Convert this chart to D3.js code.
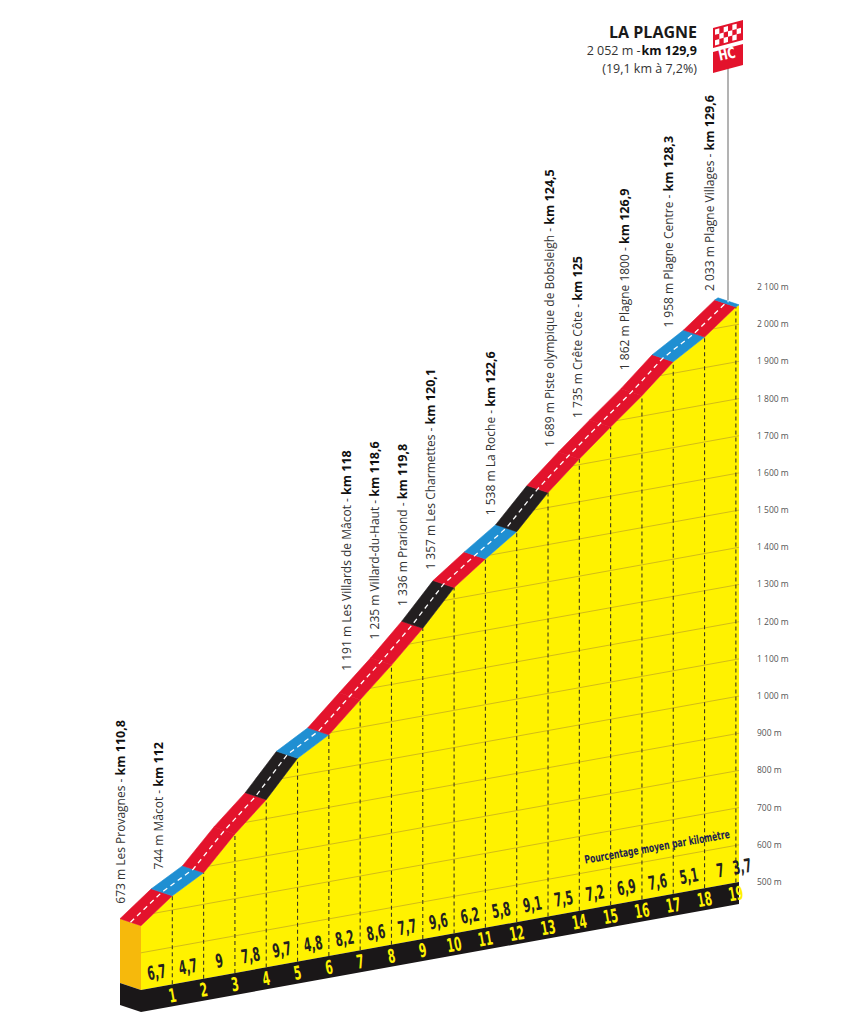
<!DOCTYPE html>
<html>
<head>
<meta charset="utf-8">
<script src="https://cdn.jsdelivr.net/npm/d3@7"></script>
<style>
    body { margin: 0; background: #fff; }
    #profile { width: 841px; height: 1024px; }
    .cond { font-family: 'Liberation Sans Narrow', 'DejaVu Sans Condensed', 'Roboto', sans-serif; font-stretch: condensed; font-weight: bold; }
    .lbl { font-family: 'Open Sans', sans-serif; }
</style>
</head>
<body>
<div id="profile"></div>
<script>

// km from the foot of the climb and the height read at each point
let kmMarks = [0, 1, 2, 3, 4, 5, 6, 7, 8, 9, 10, 11, 12, 13, 14, 15, 16, 17, 18, 19, 19.1];
let elevations = [673, 738, 785, 874, 951, 1047, 1095, 1174, 1252, 1336, 1430, 1492, 1550, 1640, 1715, 1786, 1855, 1931, 1982, 2048, 2052];

// average gradient of each km
let kmGradients = [6.7, 4.7, 9, 7.8, 9.7, 4.8, 8.2, 8.6, 7.7, 9.6, 6.2, 5.8, 9.1, 7.5, 7.2, 6.9, 7.6, 5.1, 7, 3.7];

// km numbers printed on the black band
let kmNumbers = [1, 2, 3, 4, 5, 6, 7, 8, 9, 10, 11, 12, 13, 14, 15, 16, 17, 18, 19];

// altitude ticks on the right
let altTicks = [500, 600, 700, 800, 900, 1000, 1100, 1200, 1300, 1400, 1500, 1600, 1700, 1800, 1900, 2000, 2100];
let altTickLabels = ["500 m", "600 m", "700 m", "800 m", "900 m", "1 000 m", "1 100 m", "1 200 m", "1 300 m", "1 400 m",
    "1 500 m", "1 600 m", "1 700 m", "1 800 m", "1 900 m", "2 000 m", "2 100 m"];

// places along the climb
let placeKm = [0, 1.2, 7.2, 7.8, 9, 9.3, 11.8, 13.7, 14.2, 16.1, 17.5, 18.8];
let placeNames = ["673 m Les Provagnes - ", "744 m Mâcot - ", "1 191 m  Les Villards de Mâcot - ", "1 235 m Villard-du-Haut - ",
    "1 336 m Prariond - ", "1 357 m Les Charmettes - ", "1 538 m La Roche - ", "1 689 m Piste olympique de Bobsleigh - ",
    "1 735 m Crête Côte - ", "1 862 m Plagne 1800 - ", "1 958 m Plagne Centre - ", "2 033 m Plagne Villages - "];
let placeKmLabels = ["km 110,8", "km 112", "km 118", "km 118,6", "km 119,8", "km 120,1", "km 122,6", "km 124,5",
    "km 125", "km 126,9", "km 128,3", "km 129,6"];

let summitName = "LA PLAGNE";
let summitAlt = "2 052 m - ";
let summitKm = "km 129,9";
let summitClimb = "(19,1 km à 7,2%)";


class ClimbProfile {

    constructor(parentElement) {
        this.parentElement = parentElement;
        this.initVis();
    }

    initVis() {
        let vis = this;

        vis.width = 841;
        vis.height = 1024;
        vis.depth = {dx: -21, dy: -7};   // offset of the back edge of the road
        vis.bandHeight = 22;
        vis.narrow = 0.62;               // squeeze for the condensed figures

        vis.svg = d3.select('#' + vis.parentElement)
            .append('svg')
            .attr('width', vis.width)
            .attr('height', vis.height);

        // horizontal: km along the climb
        vis.x = d3.scaleLinear()
            .domain([0, 19.1])
            .range([141, 739]);

        // the floor of the block rises to the right
        vis.base = d3.scaleLinear()
            .domain([141, 739])
            .range([990, 882]);

        // altitude above the 500 m floor
        vis.alt = d3.scaleLinear()
            .domain([500, 2100])
            .range([0, -595]);

        // piecewise height along the road
        vis.elev = d3.scaleLinear()
            .domain(kmMarks)
            .range(elevations);

        vis.colour = d3.scaleThreshold()
            .domain([6, 9.05])
            .range(['#1f8fd2', '#e3132c', '#231f20']);

        vis.updateVis();
    }

    px(km) { return this.x(km); }
    py(km, e) { return this.base(this.x(km)) + this.alt(e); }

    updateVis() {
        let vis = this;
        let pts = kmMarks.map((k, i) => ({km: k, e: elevations[i]}));
        let xEnd = vis.x(19.1);

        // yellow front face
        let facePts = pts.map(d => [vis.px(d.km), vis.py(d.km, d.e)]);
        facePts.push([xEnd, vis.base(xEnd)]);
        facePts.push([vis.x(0), vis.base(vis.x(0))]);

        vis.svg.append('clipPath').attr('id', 'faceClip')
            .append('polygon').attr('points', facePts.join(' '));

        vis.svg.append('polygon')
            .attr('points', facePts.join(' '))
            .attr('fill', '#fff200');

        // left side of the block
        let x0 = vis.x(0), y0 = vis.py(0, elevations[0]), b0 = vis.base(x0);
        let d = vis.depth;
        vis.svg.append('polygon')
            .attr('points', [[x0, y0], [x0 + d.dx, y0 + d.dy], [x0 + d.dx, b0 + d.dy], [x0, b0]].join(' '))
            .attr('fill', '#f6b90c');

        // black band
        vis.svg.append('polygon')
            .attr('points', [[x0 + d.dx, b0 + d.dy], [x0, b0], [xEnd, vis.base(xEnd)],
                [xEnd, vis.base(xEnd) + vis.bandHeight], [x0, b0 + vis.bandHeight],
                [x0 + d.dx, b0 + d.dy + vis.bandHeight]].join(' '))
            .attr('fill', '#1a1718');

        // altitude grid lines on the face
        let grid = vis.svg.append('g').attr('clip-path', 'url(#faceClip)');
        grid.selectAll('line.grid')
            .data(altTicks.filter(a => a > 500))
            .enter().append('line')
            .attr('class', 'grid')
            .attr('x1', x0)
            .attr('x2', xEnd)
            .attr('y1', a => vis.base(x0) + vis.alt(a))
            .attr('y2', a => vis.base(xEnd) + vis.alt(a))
            .attr('stroke', '#cdb51a')
            .attr('stroke-width', 0.9);

        // dashed km lines
        vis.svg.selectAll('line.kmline')
            .data(kmNumbers)
            .enter().append('line')
            .attr('class', 'kmline')
            .attr('x1', k => vis.x(k))
            .attr('x2', k => vis.x(k))
            .attr('y1', k => vis.base(vis.x(k)))
            .attr('y2', k => vis.py(k, vis.elev(k)))
            .attr('stroke', '#3e3a1c')
            .attr('stroke-width', 1.1)
            .attr('stroke-dasharray', '4,3');

        // road on top, one piece per km, coloured by gradient
        let segs = kmGradients.map((g, i) => ({g: g, a: pts[i], b: pts[i + 1]}));
        vis.svg.selectAll('polygon.road')
            .data(segs)
            .enter().append('polygon')
            .attr('class', 'road')
            .attr('points', s => {
                let ax = vis.px(s.a.km), ay = vis.py(s.a.km, s.a.e);
                let bx = vis.px(s.b.km), by = vis.py(s.b.km, s.b.e);
                return [[ax, ay], [bx, by], [bx + d.dx, by + d.dy], [ax + d.dx, ay + d.dy]].join(' ');
            })
            .attr('fill', s => vis.colour(s.g))
            .attr('stroke', s => vis.colour(s.g))
            .attr('stroke-width', 0.6);

        // centre line of the road
        let centre = d3.line()
            .x(p => vis.px(p.km) + d.dx / 2)
            .y(p => vis.py(p.km, p.e) + d.dy / 2);
        vis.svg.append('path')
            .attr('d', centre(pts))
            .attr('fill', 'none')
            .attr('stroke', '#fff')
            .attr('stroke-width', 1.3)
            .attr('stroke-dasharray', '5,4');

        // gradient of each km
        vis.svg.selectAll('text.grad')
            .data(kmGradients)
            .enter().append('text')
            .attr('class', 'grad cond')
            .attr('transform', (g, i) => {
                let k = i < 19 ? i + 0.5 : 19.1;
                let xx = vis.x(k) + (i < 19 ? 0 : 3);
                return 'translate(' + xx + ',' + (vis.base(xx) - 15) + ') rotate(-10) scale(' + vis.narrow + ',1)';
            })
            .attr('text-anchor', 'middle')
            .attr('dy', '0.35em')
            .attr('font-size', 19)
            .attr('fill', '#231f20')
            .text(g => String(g).replace('.', ','));

        // km numbers on the band
        vis.svg.selectAll('text.kmnum')
            .data(kmNumbers)
            .enter().append('text')
            .attr('class', 'kmnum cond')
            .attr('transform', k => 'translate(' + vis.x(k) + ',' + (vis.base(vis.x(k)) + 11) + ') rotate(-10) scale(' + vis.narrow + ',1)')
            .attr('text-anchor', 'middle')
            .attr('dy', '0.36em')
            .attr('font-size', 19)
            .attr('fill', '#fff200')
            .text(k => k);

        // caption along the floor
        let cx = 657;
        vis.svg.append('text')
            .attr('class', 'cond')
            .attr('transform', 'translate(' + cx + ',' + (vis.base(cx) - 50) + ') rotate(-10.2) scale(0.74,1)')
            .attr('text-anchor', 'middle')
            .attr('dy', '0.35em')
            .attr('font-size', 11.5)
            .attr('fill', '#1d1f4f')
            .text('Pourcentage moyen par kilomètre');

        // altitude labels on the right
        vis.svg.selectAll('text.alt')
            .data(altTicks)
            .enter().append('text')
            .attr('class', 'alt lbl')
            .attr('x', 757)
            .attr('y', a => vis.base(xEnd) + vis.alt(a))
            .attr('dy', '0.35em')
            .attr('font-size', 8.5)
            .attr('fill', '#555')
            .text((a, i) => altTickLabels[i]);

        vis.drawPlaces();
        vis.drawSummit();
    }

    drawPlaces() {
        let vis = this;
        let d = vis.depth;

        // spread labels so that near places do not overlap
        let lx = [];
        placeKm.forEach((k, i) => {
            let xx = vis.x(k) - 20;
            if (i > 0) xx = Math.max(xx, lx[i - 1] + 28);
            lx.push(xx);
        });

        let labels = vis.svg.selectAll('text.place')
            .data(placeKm)
            .enter().append('text')
            .attr('class', 'place lbl')
            .attr('transform', (k, i) => {
                let kk = Math.min(vis.x.invert(lx[i] - d.dx), 19.1);
                let yb = vis.py(kk, vis.elev(kk)) + d.dy - 14;
                return 'translate(' + lx[i] + ',' + yb + ') rotate(-90)';
            })
            .attr('dy', '0.35em')
            .attr('font-size', 12)
            .attr('fill', '#333');

        labels.append('tspan').text((k, i) => placeNames[i]);
        labels.append('tspan')
            .attr('font-weight', 'bold')
            .attr('font-size', 12.5)
            .attr('fill', '#111')
            .text((k, i) => placeKmLabels[i]);
    }

    drawSummit() {
        let vis = this;
        let d = vis.depth;
        let top = kmMarks.length - 1;
        let poleX = 728;

        vis.svg.append('line')
            .attr('x1', poleX).attr('x2', poleX)
            .attr('y1', 68)
            .attr('y2', vis.py(kmMarks[top], elevations[top]) + d.dy / 2 - 1)
            .attr('stroke', '#8a8a8a')
            .attr('stroke-width', 1.3);

        // chequered flag
        let flag = vis.svg.append('g').attr('transform', 'translate(713,20)');
        let skew = -8;
        let fw = 30, fh = 20;
        let shape = (w, h) => 'M0,' + (-skew) + ' L' + w + ',0 L' + w + ',' + h + ' L0,' + (h - skew) + ' Z';
        flag.append('path').attr('d', shape(fw, fh)).attr('fill', '#e3132c');
        let cols = 6, rows = 3, cw = (fw - 4) / cols, ch = (fh - 4) / rows;
        for (let r = 0; r < rows; r++) {
            for (let c = 0; c < cols; c++) {
                if ((r + c) % 2 === 0) {
                    let x1 = 2 + c * cw, x2 = x1 + cw;
                    let s1 = -skew * (1 - x1 / fw), s2 = -skew * (1 - x2 / fw);
                    let y1 = 2 + r * ch;
                    flag.append('path')
                        .attr('d', 'M' + x1 + ',' + (y1 + s1) + ' L' + x2 + ',' + (y1 + s2) + ' L' + x2 + ',' + (y1 + ch + s2) + ' L' + x1 + ',' + (y1 + ch + s1) + ' Z')
                        .attr('fill', '#fff');
                }
            }
        }

        // HC flag
        let hc = vis.svg.append('g').attr('transform', 'translate(713,44)');
        hc.append('path').attr('d', shape(fw, 21)).attr('fill', '#e3132c');
        hc.append('text')
            .attr('class', 'cond')
            .attr('transform', 'translate(' + (fw / 2) + ',15) rotate(-12) scale(0.8,1)')
            .attr('text-anchor', 'middle')
            .attr('font-size', 15)
            .attr('fill', '#fff')
            .text('HC');

        let head = vis.svg.append('g').attr('class', 'lbl').attr('text-anchor', 'end');
        head.append('text')
            .attr('x', 697).attr('y', 38)
            .attr('font-size', 16)
            .attr('font-weight', 'bold')
            .attr('fill', '#1a1a1a')
            .text(summitName);

        // second line: bold km on the right, altitude just before it
        let kmText = head.append('text')
            .attr('x', 697).attr('y', 55)
            .attr('font-size', 12.5)
            .attr('font-weight', 'bold')
            .attr('fill', '#111')
            .text(summitKm);
        let kmWidth = kmText.node().getComputedTextLength();
        head.append('text')
            .attr('x', 697 - kmWidth - 1).attr('y', 55)
            .attr('font-size', 12.5)
            .attr('fill', '#333')
            .text(summitAlt.trim());

        head.append('text')
            .attr('x', 697).attr('y', 73)
            .attr('font-size', 12.5)
            .attr('fill', '#333')
            .text(summitClimb);
    }
}

let profile = new ClimbProfile('profile');

</script>
</body>
</html>
